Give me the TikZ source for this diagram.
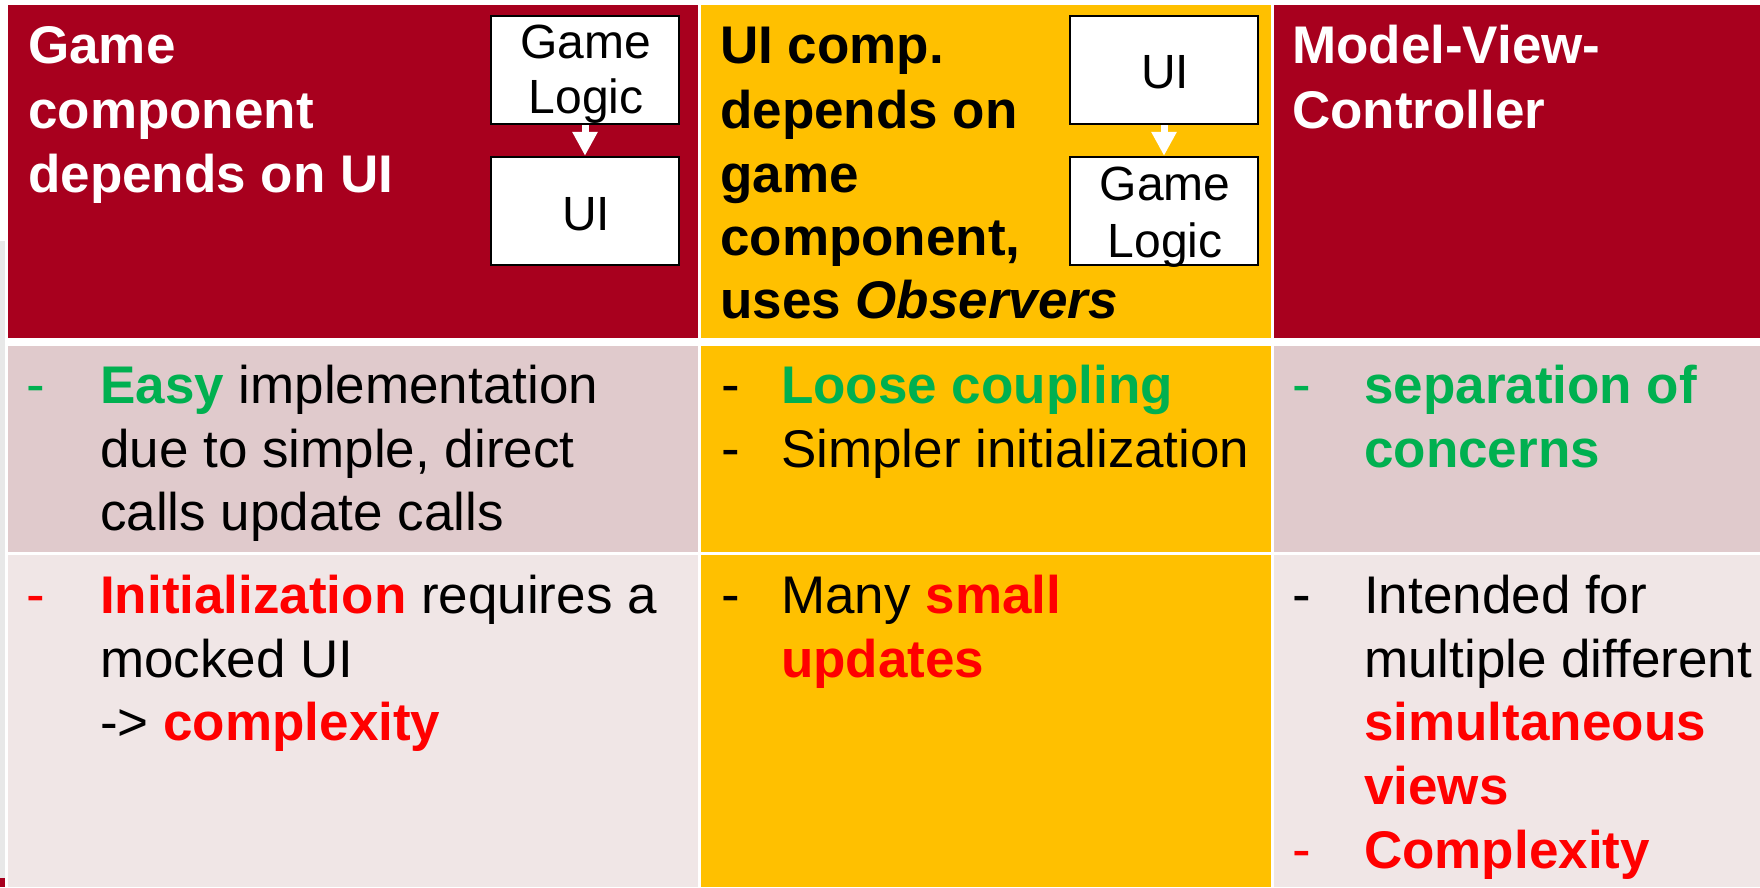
\documentclass[tikz,border=0pt]{standalone}
\usepackage{fontspec}
\setmainfont{Liberation Sans}
\usetikzlibrary{arrows.meta}
\definecolor{hdrred}{RGB}{168,0,30}
\definecolor{gold}{RGB}{255,192,0}
\definecolor{pinkA}{RGB}{224,202,204}
\definecolor{pinkB}{RGB}{240,230,230}
\definecolor{gtext}{RGB}{0,176,80}
\definecolor{rtext}{RGB}{255,0,0}
\definecolor{stripgrey}{RGB}{232,232,232}
\begin{document}
\begin{tikzpicture}[x=1pt,y=-1pt,
  txt/.style={anchor=base west,inner sep=0pt,font=\fontsize{53}{64}\selectfont},
  btxt/.style={anchor=base west,inner sep=0pt,font=\fontsize{53}{64}\selectfont\bfseries},
  bulletmark/.style={anchor=base west,inner sep=0pt,font=\fontsize{56}{64}\selectfont},
  boxtxt/.style={anchor=base,inner sep=0pt,font=\fontsize{48}{55}\selectfont},
  ubox/.style={draw=black,line width=2.5pt,fill=white,minimum width=188pt,minimum height=108pt,inner sep=0pt},
  dep/.style={draw=white,line width=7pt,-{Triangle[width=24pt,length=24pt]}}
]
\fill[white] (0,0) rectangle (1760,887);
\useasboundingbox (0,0) rectangle (1760,887);
% left strip
\fill[stripgrey] (0,241) rectangle (5,878);
\fill[hdrred] (0,878) rectangle (5,887);
% header row
\fill[hdrred] (8,4.5) rectangle (698,337.5);
\fill[gold] (701,4.5) rectangle (1271,337.5);
\fill[hdrred] (1274,4.5) rectangle (1760,337.5);
% row 2
\fill[pinkA] (8,345.5) rectangle (698,551.5);
\fill[gold] (701,345.5) rectangle (1271,551.5);
\fill[pinkA] (1274,345.5) rectangle (1760,551.5);
% row 3
\fill[pinkB] (8,554.5) rectangle (698,887);
\fill[gold] (701,554.5) rectangle (1271,887);
\fill[pinkB] (1274,554.5) rectangle (1760,887);

% header col 1
\node[btxt,text=white] (h1a) at (28,63) {Game};
\node[btxt,text=white] (h1b) at (28,128) {component};
\node[btxt,text=white] (h1c) at (28,192) {depends on UI};
% boxes col 1
\node[ubox] (g1) at (585,70) {};
\node[ubox] (u1) at (585,211) {};
\node[boxtxt] (g1a) at (586,58) {Game};
\node[boxtxt] (g1b) at (586,113) {Logic};
\node[boxtxt] (u1a) at (586,230) {UI};
\draw[dep] (g1.south) -- (u1.north);

% header col 2
\node[btxt] (h2a) at (720,63) {UI comp.};
\node[btxt] (h2b) at (720,128) {depends on};
\node[btxt] (h2c) at (720,192) {game};
\node[btxt] (h2d) at (720,255) {component,};
\node[btxt] (h2e) at (720,318) {uses \textit{Observers}};
% boxes col 2
\node[ubox] (u2) at (1164,70) {};
\node[ubox] (g2) at (1164,211) {};
\node[boxtxt] (u2a) at (1165,88) {UI};
\node[boxtxt] (g2a) at (1165,200) {Game};
\node[boxtxt] (g2b) at (1165,257) {Logic};
\draw[dep] (u2.south) -- (g2.north);

% header col 3
\node[btxt,text=white] (h3a) at (1292,63) {Model-View-};
\node[btxt,text=white] (h3b) at (1292,128) {Controller};

% row 2 col 1
\node[bulletmark,text=gtext] (d21) at (26,403) {-};
\node[txt] (t21a) at (100,403) {\textbf{\color{gtext}Easy} implementation};
\node[txt] (t21b) at (100,467) {due to simple, direct};
\node[txt] (t21c) at (100,530) {calls update calls};
% row 3 col 1
\node[bulletmark,text=rtext] (d31) at (26,613) {-};
\node[txt] (t31a) at (100,613) {\textbf{\color{rtext}Initialization} requires a};
\node[txt] (t31b) at (100,677) {mocked UI};
\node[txt] (t31c) at (100,740) {-> \textbf{\color{rtext}complexity}};

% row 2 col 2
\node[bulletmark] (d22a) at (721,403) {-};
\node[btxt,text=gtext] (t22a) at (781,403) {Loose coupling};
\node[bulletmark] (d22b) at (721,467) {-};
\node[txt] (t22b) at (781,467) {Simpler initialization};
% row 3 col 2
\node[bulletmark] (d32) at (721,613) {-};
\node[txt] (t32a) at (781,613) {Many \textbf{\color{rtext}small}};
\node[btxt,text=rtext] (t32b) at (781,677) {updates};

% row 2 col 3
\node[bulletmark,text=gtext] (d23) at (1292,403) {-};
\node[btxt,text=gtext] (t23a) at (1364,403) {separation of};
\node[btxt,text=gtext] (t23b) at (1364,467) {concerns};
% row 3 col 3
\node[bulletmark] (d33a) at (1292,613) {-};
\node[txt] (t33a) at (1364,613) {Intended for};
\node[txt] (t33b) at (1364,677) {multiple different};
\node[btxt,text=rtext] (t33c) at (1364,740) {simultaneous};
\node[btxt,text=rtext] (t33d) at (1364,804) {views};
\node[bulletmark,text=rtext] (d33b) at (1292,868) {-};
\node[btxt,text=rtext] (t33e) at (1364,868) {Complexity};
\end{tikzpicture}
\end{document}
